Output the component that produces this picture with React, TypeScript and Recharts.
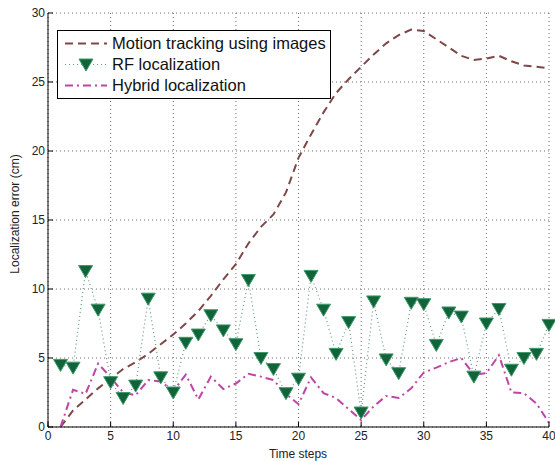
import { LineChart, Line, XAxis, YAxis, CartesianGrid, Legend, Label } from "recharts"

// values
const steps = [1, 2, 3, 4, 5, 6, 7, 8, 9, 10, 11, 12, 13, 14, 15, 16, 17, 18, 19, 20,
  21, 22, 23, 24, 25, 26, 27, 28, 29, 30, 31, 32, 33, 34, 35, 36, 37, 38, 39, 40]

const motionTracking = [0, 1.2, 2.0, 2.8, 3.5, 4.2, 4.7, 5.3, 6.0, 6.7,
  7.5, 8.4, 9.5, 10.7, 11.8, 13.3, 14.5, 15.4, 17.0, 19.5,
  21.2, 22.8, 24.2, 25.2, 26.1, 27.0, 27.8, 28.4, 28.8, 28.7,
  28.1, 27.5, 26.9, 26.6, 26.7, 26.9, 26.5, 26.2, 26.1, 26.0]

const rfLocalization = [4.5, 4.3, 11.3, 8.5, 3.25, 2.1, 3.0, 9.3, 3.6, 2.5,
  6.1, 6.7, 8.1, 7.0, 6.0, 10.65, 5.0, 4.2, 2.45, 3.5,
  10.95, 8.5, 5.3, 7.6, 1.05, 9.1, 4.9, 3.9, 9.0, 8.9,
  5.95, 8.3, 8.0, 3.65, 7.5, 8.55, 4.15, 5.0, 5.3, 7.4]

const hybridLocalization = [0, 2.7, 2.4, 4.6, 3.6, 2.5, 2.3, 3.4, 3.3, 2.6,
  3.8, 2.0, 3.65, 2.75, 3.15, 3.85, 3.65, 3.4, 2.4, 1.65,
  3.6, 2.45, 2.1, 1.3, 0.5, 1.5, 2.25, 2.1, 2.8, 3.95,
  4.3, 4.7, 5.0, 3.8, 3.9, 5.2, 2.5, 2.45, 1.7, 0.3]

const xTicks = [0, 5, 10, 15, 20, 25, 30, 35, 40]
const yTicks = [0, 5, 10, 15, 20, 25, 30]

const seriesNames = ["Motion tracking using images", "RF localization", "Hybrid localization"]

const MOTION_COLOR = "#7f4848"
const RF_LINE = "#5f9c80"
const RF_FILL = "#11643a"
const RF_EDGE = "#3d9a68"
const HYBRID_COLOR = "#bf44a6"

const data = steps.map((t, i) => ({
  t,
  motion: motionTracking[i],
  rf: rfLocalization[i],
  hybrid: hybridLocalization[i],
}))

const font = "'Liberation Sans', Arial, Helvetica, sans-serif"

function TriangleDot(props: any) {
  const { cx, cy, index } = props
  if (cx == null || cy == null) return null
  return (
    <polygon
      key={`tri-${index}`}
      points={`${cx - 7},${cy - 5.5} ${cx + 7},${cy - 5.5} ${cx},${cy + 6.5}`}
      fill={RF_FILL}
      stroke={RF_EDGE}
      strokeWidth={1}
    />
  )
}

function LegendBox() {
  const rows = [
    { name: seriesNames[0], color: MOTION_COLOR, dash: "8 5", width: 2, marker: false },
    { name: seriesNames[1], color: RF_LINE, dash: "1 3", width: 1, marker: true },
    { name: seriesNames[2], color: HYBRID_COLOR, dash: "8 4 2 4", width: 2, marker: false },
  ]
  return (
    <div
      style={{
        width: 272,
        height: 67,
        border: "1px solid #000",
        background: "#fff",
        fontFamily: font,
        fontSize: 16.5,
        color: "#111",
        boxSizing: "content-box",
      }}
    >
      {rows.map((r, i) => (
        <div key={r.name} style={{ position: "absolute", left: 0, top: 3 + i * 21, height: 21, display: "flex", alignItems: "center" }}>
          <svg width={55} height={21} style={{ display: "block" }}>
            <line x1={8} x2={50} y1={10.5} y2={10.5} stroke={r.color} strokeWidth={r.width} strokeDasharray={r.dash} />
            {r.marker && (
              <polygon points={`${29 - 7},${5} ${29 + 7},${5} ${29},${17}`} fill={RF_FILL} stroke={RF_EDGE} strokeWidth={1} />
            )}
          </svg>
          <span style={{ whiteSpace: "nowrap" }}>{r.name}</span>
        </div>
      ))}
    </div>
  )
}

export default function App() {
  return (
    <div style={{ position: "absolute", left: 0, top: 0, background: "#fff" }}>
      <LineChart
        width={555}
        height={461}
        data={data}
        margin={{ top: 13, right: 6, bottom: 0, left: 0 }}
        style={{ fontFamily: font }}
      >
        <CartesianGrid stroke="#6e6e6e" strokeDasharray="1 3" strokeWidth={1} />
        <XAxis
          dataKey="t"
          type="number"
          domain={[0, 40]}
          ticks={xTicks}
          height={34}
          tickSize={-5}
          tickMargin={9}
          axisLine={{ stroke: "#000" }}
          tickLine={{ stroke: "#000" }}
          tick={{ fontSize: 12, fill: "#222" }}
          interval={0}
        >
          <Label
            content={() => (
              <text x={298} y={458} textAnchor="middle" fontSize={12} fill="#222" fontFamily={font}>
                Time steps
              </text>
            )}
          />
        </XAxis>
        <XAxis
          xAxisId="top"
          orientation="top"
          type="number"
          domain={[0, 40]}
          ticks={xTicks}
          height={0}
          tickSize={-5}
          tick={false}
          axisLine={{ stroke: "#000" }}
          tickLine={{ stroke: "#000" }}
        />
        <YAxis
          type="number"
          domain={[0, 30]}
          ticks={yTicks}
          width={48}
          tickSize={-5}
          tickMargin={8}
          axisLine={{ stroke: "#000" }}
          tickLine={{ stroke: "#000" }}
          tick={{ fontSize: 12, fill: "#222" }}
          interval={0}
        >
          <Label
            content={() => (
              <text
                transform="translate(19,214) rotate(-90)"
                textAnchor="middle"
                fontSize={12}
                fill="#222"
                fontFamily={font}
              >
                Localization error (cm)
              </text>
            )}
          />
        </YAxis>
        <YAxis
          yAxisId="right"
          orientation="right"
          type="number"
          domain={[0, 30]}
          ticks={yTicks}
          width={0}
          tickSize={-5}
          tick={false}
          axisLine={{ stroke: "#000" }}
          tickLine={{ stroke: "#000" }}
        />
        <Line
          dataKey="motion"
          name={seriesNames[0]}
          stroke={MOTION_COLOR}
          strokeWidth={2}
          strokeDasharray="8 5"
          dot={false}
          type="linear"
          isAnimationActive={false}
        />
        <Line
          dataKey="rf"
          name={seriesNames[1]}
          stroke={RF_LINE}
          strokeWidth={1.2}
          strokeDasharray="1 3"
          dot={TriangleDot}
          type="linear"
          isAnimationActive={false}
        />
        <Line
          dataKey="hybrid"
          name={seriesNames[2]}
          stroke={HYBRID_COLOR}
          strokeWidth={2}
          strokeDasharray="8 4 2 4"
          dot={false}
          type="linear"
          isAnimationActive={false}
        />
        <Legend
          layout="vertical"
          align="center"
          verticalAlign="middle"
          wrapperStyle={{ position: "absolute", left: 57, top: 30, width: 274, height: 69 }}
          content={() => <LegendBox />}
        />
      </LineChart>
    </div>
  )
}
